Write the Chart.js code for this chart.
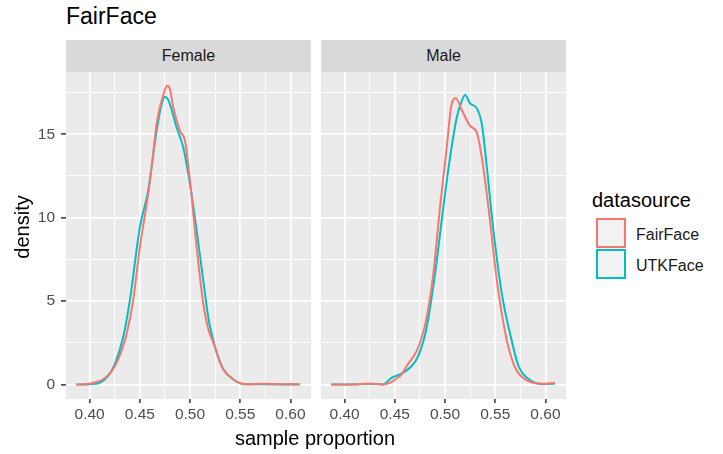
<!DOCTYPE html>
<html>
<head>
<meta charset="utf-8">
<script src="https://cdn.jsdelivr.net/npm/chart.js@4.4.1/dist/chart.umd.min.js"></script>
<style>
  html, body { margin:0; padding:0; background:#ffffff; }
  body { width:723px; height:454px; position:relative; overflow:hidden;
         font-family:'Liberation Sans', Arial, Helvetica, sans-serif; }
  .abs { position:absolute; }
  canvas { position:absolute; }
  .strip { position:absolute; background:#D9D9D9; color:#1A1A1A; font-size:16px;
           text-align:center; line-height:32px; height:32px; }
  .key { position:absolute; width:30px; height:30px; box-sizing:border-box;
         background:#F2F2F2; border:2px solid; }
</style>
</head>
<body>
<div class="abs" style="left:66px;top:5px;font-size:23px;line-height:23px;color:#000;">FairFace</div>
<div class="strip" style="left:66px;top:40px;width:245px;">Female</div>
<div class="strip" style="left:321px;top:40px;width:245px;">Male</div>
<canvas id="female" width="316" height="382" style="left:0px;top:72px;"></canvas>
<canvas id="male" width="260" height="382" style="left:316px;top:72px;"></canvas>
<div class="abs" style="left:115px;width:400px;top:428px;font-size:20px;line-height:20px;text-align:center;color:#000;">sample proportion</div>
<div class="abs" style="left:-28px;top:217px;width:100px;height:20px;font-size:20px;line-height:20px;text-align:center;color:#000;transform:rotate(-90deg);">density</div>
<div class="abs" style="left:592px;top:190px;font-size:20px;line-height:20px;color:#000;">datasource</div>
<div class="key" style="left:596px;top:218px;border-color:#F8766D;"></div>
<div class="key" style="left:596px;top:249px;border-color:#00BFC4;"></div>
<div class="abs" style="left:636px;top:227px;font-size:16px;line-height:16px;color:#1A1A1A;">FairFace</div>
<div class="abs" style="left:636px;top:258px;font-size:16px;line-height:16px;color:#1A1A1A;">UTKFace</div>
<script>
// ---- data ----
const seriesNames = ['FairFace', 'UTKFace'];
const seriesColors = ['#F8766D', '#00BFC4'];
const facets = ['Female', 'Male'];

const femaleFairX = [0.3867,0.395,0.40,0.405,0.4133,0.42,0.425,0.4317,0.4367,0.4433,0.45,0.4583,0.4633,0.4667,0.4733,0.4773,0.480,0.4833,0.49,0.495,0.50,0.5067,0.5133,0.5183,0.5233,0.5283,0.5333,0.5433,0.5517,0.56,0.57,0.58,0.59,0.6093];
const femaleFairY = [0,0.01,0.05,0.12,0.3,0.65,1.08,2.0,3.0,5.0,8.2,11.4,13.8,15.6,17.35,17.9,17.7,16.6,15.2,14.6,12.2,8.2,4.8,3.3,2.5,1.6,0.9,0.3,0.05,0.02,0.05,0.03,0.02,0.02];

const femaleUtkX = [0.3867,0.40,0.41,0.4183,0.425,0.4333,0.44,0.45,0.4583,0.4667,0.4717,0.475,0.478,0.48,0.4867,0.4933,0.50,0.5067,0.5133,0.5183,0.5233,0.5283,0.5333,0.5433,0.5533,0.57,0.609];
const femaleUtkY = [0,0.02,0.1,0.5,1.2,2.8,5.0,9.4,11.6,15.2,16.8,17.25,17.1,16.8,15.4,14.2,12.0,9.2,6.2,4.0,2.6,1.6,0.9,0.3,0.02,0.01,0];

const maleFairX = [0.3867,0.41,0.425,0.438,0.445,0.45,0.4567,0.4617,0.4717,0.4767,0.4817,0.4883,0.495,0.5017,0.5067,0.5107,0.5167,0.525,0.5317,0.5367,0.5433,0.5517,0.5567,0.5617,0.5667,0.5717,0.585,0.598,0.6093];
const maleFairY = [0,0,0.05,0,0.1,0.28,0.6,1.1,2.0,2.8,4.0,6.6,10.6,14.2,16.85,17.15,16.45,15.5,15.1,13.6,10.6,6.2,4.2,2.6,1.5,0.8,0.15,0.05,0.1];

const maleUtkX = [0.3867,0.41,0.425,0.438,0.4467,0.455,0.465,0.4733,0.4817,0.49,0.4983,0.505,0.5117,0.5167,0.52,0.525,0.5317,0.5367,0.5417,0.5483,0.5567,0.565,0.5733,0.585,0.598,0.6093];
const maleUtkY = [0,0,0.05,0,0.4,0.6,1.0,1.7,3.4,6.6,10.6,13.6,16.0,17.0,17.35,16.85,16.55,15.6,13.0,9.2,5.4,3.0,1.1,0.25,0.02,0.05];

const xTickValues = [0.40,0.425,0.45,0.475,0.50,0.525,0.55,0.575,0.60];
const yTickValues = [0,2.5,5,7.5,10,12.5,15,17.5];
const xRange = [0.3765, 0.6205];
const yRange = [-0.87, 18.73];

// ---- helpers ----
const FONT = "'Liberation Sans', Arial, Helvetica, sans-serif";
const zip = (xs, ys) => xs.map((x, i) => ({x: x, y: ys[i]}));
const isMajorX = v => Math.abs(v * 20 - Math.round(v * 20)) < 1e-6;
const isMajorY = v => Math.abs(v / 5 - Math.round(v / 5)) < 1e-6;

const panelBg = {
  id: 'panelBg',
  beforeDraw(chart) {
    const a = chart.chartArea, c = chart.ctx;
    c.save();
    c.fillStyle = '#EBEBEB';
    c.fillRect(a.left, a.top, a.right - a.left, a.bottom - a.top);
    c.restore();
  }
};

function makeChart(id, fairX, fairY, utkX, utkY, showY, padding) {
  const ds = [
    {label: seriesNames[0], data: zip(fairX, fairY), borderColor: seriesColors[0]},
    {label: seriesNames[1], data: zip(utkX, utkY), borderColor: seriesColors[1]}
  ].map(d => Object.assign(d, {
    borderWidth: 2, pointRadius: 0, fill: false, tension: 0.4,
    cubicInterpolationMode: 'monotone'
  }));
  return new Chart(document.getElementById(id), {
    type: 'line',
    data: {datasets: ds},
    plugins: [panelBg],
    options: {
      responsive: false, animation: false,
      layout: {padding: padding},
      plugins: {legend: {display: false}, tooltip: {enabled: false}},
      scales: {
        x: {
          type: 'linear', min: xRange[0], max: xRange[1],
          afterBuildTicks: s => { s.ticks = xTickValues.map(v => ({value: v})); },
          afterFit: s => { s.height = 30; s.paddingLeft = 0; s.paddingRight = 0; s.paddingTop = 0; s.paddingBottom = 0; },
          border: {display: false},
          grid: {
            color: '#FFFFFF',
            lineWidth: c => (c.tick && isMajorX(c.tick.value)) ? 1.8 : 0.9,
            drawTicks: true, tickLength: 4, tickWidth: 1.5,
            tickColor: c => (c.tick && isMajorX(c.tick.value)) ? '#333333' : 'rgba(0,0,0,0)'
          },
          ticks: {
            autoSkip: false, maxRotation: 0, padding: 2, color: '#4D4D4D',
            font: {family: FONT, size: 15.5},
            callback: v => isMajorX(v) ? v.toFixed(2) : ''
          }
        },
        y: {
          type: 'linear', min: yRange[0], max: yRange[1],
          afterBuildTicks: s => { s.ticks = yTickValues.map(v => ({value: v})); },
          afterFit: s => { s.width = showY ? 66 : 0; s.paddingTop = 0; s.paddingBottom = 0; s.paddingLeft = 0; s.paddingRight = 0; },
          border: {display: false},
          grid: {
            color: '#FFFFFF',
            lineWidth: c => (c.tick && isMajorY(c.tick.value)) ? 1.8 : 0.9,
            drawTicks: showY, tickLength: 5, tickWidth: 1.5,
            tickColor: c => (c.tick && isMajorY(c.tick.value)) ? '#333333' : 'rgba(0,0,0,0)'
          },
          ticks: {
            display: showY, autoSkip: false, padding: 6, color: '#4D4D4D',
            font: {family: FONT, size: 15.5},
            callback: v => isMajorY(v) ? String(Math.round(v)) : ''
          }
        }
      }
    }
  });
}

makeChart('female', femaleFairX, femaleFairY, femaleUtkX, femaleUtkY, true,
          {left: 0, right: 5, top: 0, bottom: 25});
makeChart('male', maleFairX, maleFairY, maleUtkX, maleUtkY, false,
          {left: 5, right: 10, top: 0, bottom: 25});
</script>
</body>
</html>
